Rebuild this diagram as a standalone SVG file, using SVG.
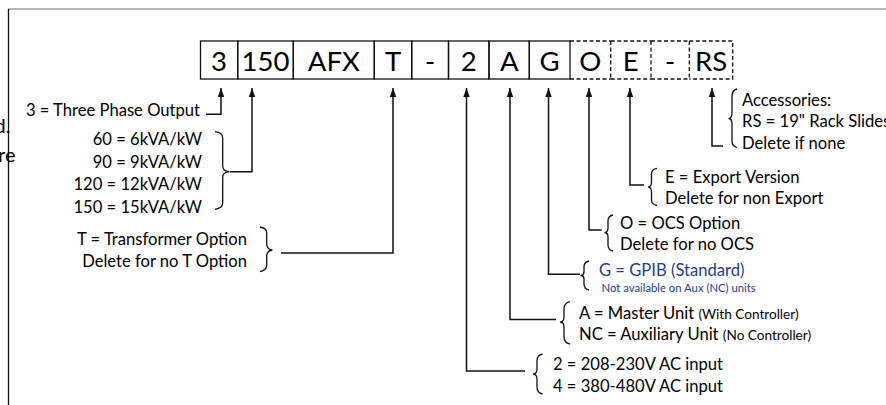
<svg xmlns="http://www.w3.org/2000/svg" width="886" height="405" viewBox="0 0 886 405">
<style>
  .t { font-family: Lato, "Liberation Sans", sans-serif; font-size: 16.6px; fill: #000; }
  .s { font-size: 13.6px; }
  .xs { font-size: 11.3px; }
  .blue { fill: #24408e; }
  .end { text-anchor: end; }
  .bt { font-family: Lato, "Liberation Sans", sans-serif; font-size: 27.5px; fill: #000; text-anchor: middle; }
  .box { fill: none; stroke: #111; stroke-width: 1.3; }
  .dash { fill: none; stroke: #111; stroke-width: 1.3; stroke-dasharray: 4 2.5; }
  .conn { fill: none; stroke: #111; stroke-width: 1.5; }
  .brace { fill: none; stroke: #111; stroke-width: 1.3; stroke-linejoin: round; }
</style>
<defs>
  <marker id="ah" markerUnits="userSpaceOnUse" markerWidth="10" markerHeight="10" viewBox="0 0 10 10" refX="9" refY="5" orient="auto">
    <path d="M0,1.8 L9,5 L0,8.2 Z" fill="#111"/>
  </marker>
</defs>
<rect width="886" height="405" fill="#fff"/>
<!-- frame -->
<line x1="8" y1="9" x2="886" y2="9" stroke="#707070" stroke-width="1.2"/>
<line x1="8.5" y1="9" x2="8.5" y2="405" stroke="#111" stroke-width="1.3"/>
<text class="t end" x="10.5" y="133" style="font-size:20px">d.</text>
<text class="t end" x="15.5" y="162" style="font-size:20px">re</text>

<!-- code boxes -->
<g id="box-3"><rect class="box" x="200.5" y="41" width="37.2" height="38"/><text class="bt" x="219.1" y="71">3</text></g>
<g id="box-150"><rect class="box" x="237.7" y="41" width="55.6" height="38"/><text class="bt" x="265.5" y="71">150</text></g>
<g id="box-AFX"><rect class="box" x="293.3" y="41" width="81" height="38"/><text class="bt" x="333.8" y="71">AFX</text></g>
<g id="box-T"><rect class="box" x="374.3" y="41" width="37.4" height="38"/><text class="bt" x="393" y="71">T</text></g>
<g id="box-dash1"><rect class="box" x="411.7" y="41" width="36.8" height="38"/><text class="bt" x="430.1" y="71">-</text></g>
<g id="box-2"><rect class="box" x="448.5" y="41" width="40.5" height="38"/><text class="bt" x="468.7" y="71">2</text></g>
<g id="box-A"><rect class="box" x="489" y="41" width="40.3" height="38"/><text class="bt" x="509.2" y="71">A</text></g>
<g id="box-G"><rect class="box" x="529.3" y="41" width="40.7" height="38"/><text class="bt" x="549.6" y="71">G</text></g>
<g id="box-O"><path class="dash" d="M570,41 H610.7 M570,79 H610.7 M610.7,41 V79"/><text class="bt" x="590.3" y="71">O</text></g>
<g id="box-E"><path class="dash" d="M610.7,41 H651 M610.7,79 H651 M651,41 V79"/><text class="bt" x="630.8" y="71">E</text></g>
<g id="box-dash2"><path class="dash" d="M651,41 H689.3 M651,79 H689.3 M689.3,41 V79"/><text class="bt" x="670.1" y="71">-</text></g>
<g id="box-RS"><path class="dash" d="M689.3,41 H732.7 V79 H689.3"/><text class="bt" x="711" y="71">RS</text></g>

<!-- connectors -->
<g id="connectors">
  <path class="conn" d="M206,114.3 H221 V88" marker-end="url(#ah)"/>
  <path class="conn" d="M230,171.7 H252 V88" marker-end="url(#ah)"/>
  <path class="conn" d="M281,253 H393 V88" marker-end="url(#ah)"/>
  <path class="conn" d="M525,371 H466.5 V88" marker-end="url(#ah)"/>
  <path class="conn" d="M556,319.5 H510 V88" marker-end="url(#ah)"/>
  <path class="conn" d="M580,274.3 H548.5 V88" marker-end="url(#ah)"/>
  <path class="conn" d="M601.7,230 H589 V88" marker-end="url(#ah)"/>
  <path class="conn" d="M644,185 H630 V88" marker-end="url(#ah)"/>
  <path class="conn" d="M723,146 H712 V88" marker-end="url(#ah)"/>
</g>

<!-- labels -->
<g id="lbl-phase">
  <text class="t end" x="200" y="116">3 = Three Phase Output</text>
</g>
<g id="lbl-power">
  <path class="brace" d="M215,131.7 Q222.7,132.5 222.7,138 L222.7,166 Q222.7,171 229,171.7 Q222.7,172.5 222.7,177 L222.7,203 Q222.7,208 215,209.3"/>
  <text class="t end" x="202" y="145">60 = 6kVA/kW</text>
  <text class="t end" x="202" y="167.5">90 = 9kVA/kW</text>
  <text class="t end" x="202" y="190">120 = 12kVA/kW</text>
  <text class="t end" x="202" y="212.5">150 = 15kVA/kW</text>
</g>
<g id="lbl-transformer">
  <path class="brace" d="M260,227 Q266.7,228 266.7,233 L266.7,244 Q266.7,249 272,250 Q266.7,251 266.7,256 L266.7,265 Q266.7,270 260,271.7"/>
  <text class="t end" x="247" y="245">T = Transformer Option</text>
  <text class="t end" x="247" y="267">Delete for no T Option</text>
</g>
<g id="lbl-accessories">
  <path class="brace" d="M737,89 Q732,90 732,96 L732,113 Q732,118 729,118.5 Q732,119 732,124 L732,141 Q732,146 737,147.5"/>
  <text class="t" x="742" y="106">Accessories:</text>
  <text class="t" x="742" y="127">RS = 19" Rack Slides</text>
  <text class="t" x="742" y="149">Delete if none</text>
</g>
<g id="lbl-export">
  <path class="brace" d="M657,168.3 Q651.5,169 651.5,174 L651.5,182 Q651.5,186.5 648.5,187 Q651.5,187.5 651.5,192 L651.5,200 Q651.5,204.5 657,205.5"/>
  <text class="t" x="665" y="182.5">E = Export Version</text>
  <text class="t" x="665" y="204">Delete for non Export</text>
</g>
<g id="lbl-ocs">
  <path class="brace" d="M613,215 Q608,216 608,221 L608,228 Q608,232 605,232.5 Q608,233 608,237 L608,245 Q608,250 613,251"/>
  <text class="t" x="620" y="228.5">O = OCS Option</text>
  <text class="t" x="620" y="250">Delete for no OCS</text>
</g>
<g id="lbl-gpib">
  <path class="brace" d="M589,261 Q584,262 584,267 L584,272 Q584,275 581,275.5 Q584,276 584,279 L584,284 Q584,289 589,290"/>
  <text class="t blue" x="599" y="276">G = GPIB (Standard)</text>
  <text class="t xs blue" x="601.5" y="291.5">Not available on Aux (NC) units</text>
</g>
<g id="lbl-unit">
  <path class="brace" d="M570,301.7 Q564,303 564,309 L564,317 Q564,321.5 560.5,322 Q564,322.5 564,327 L564,337 Q564,343 570,344"/>
  <text class="t" x="579" y="318.5">A = Master Unit <tspan class="s">(With Controller)</tspan></text>
  <text class="t" x="579" y="340">NC = Auxiliary Unit <tspan class="s">(No Controller)</tspan></text>
</g>
<g id="lbl-input">
  <path class="brace" d="M542.5,354 Q537,355 537,361 L537,369 Q537,373.5 533.5,374 Q537,374.5 537,379 L537,387 Q537,393 542.5,394"/>
  <text class="t" x="553" y="370">2 = 208-230V AC input</text>
  <text class="t" x="553" y="391.7">4 = 380-480V AC input</text>
</g>
</svg>
